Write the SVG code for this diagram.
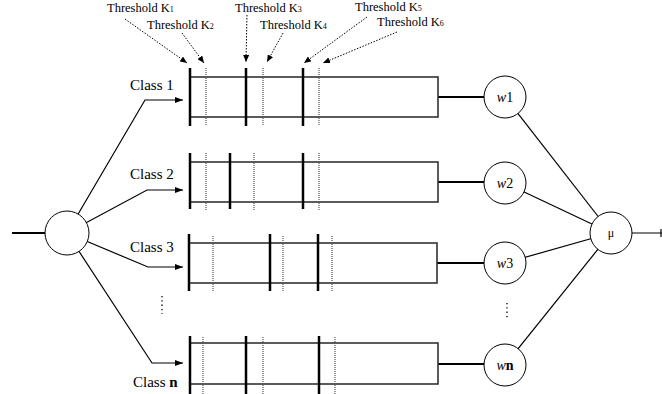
<svg xmlns="http://www.w3.org/2000/svg" width="662" height="394" viewBox="0 0 662 394">
<defs>
<marker id="ah" markerWidth="8" markerHeight="6" refX="8" refY="3" orient="auto" markerUnits="userSpaceOnUse"><path d="M0,0 L8,3 L0,6 Z" fill="#000"/></marker>
<marker id="dh" markerWidth="7" markerHeight="6" refX="7" refY="3" orient="auto" markerUnits="userSpaceOnUse"><path d="M0,0 L7,3 L0,6 Z" fill="#000"/></marker>
</defs>
<style>
text{font-family:"Liberation Serif","Times New Roman",serif;fill:#000}
.lbl{font-size:15px}
.th{font-size:12.5px}
.sub{font-size:8px}
.cn{font-size:14px}
.box{fill:#fff;stroke:#333;stroke-width:1.6}
.thick{stroke:#000;stroke-width:2.5}
.dot{stroke:#555;stroke-width:1.2;stroke-dasharray:1 1}
.node{fill:#fff;stroke:#000;stroke-width:1}
.ln{stroke:#000;stroke-width:1.2;fill:none}
.bold{stroke:#000;stroke-width:2.2;fill:none}
.darr{stroke:#000;stroke-width:1;stroke-dasharray:1.5 1.5;fill:none}
</style>
<rect width="662" height="394" fill="#fff"/>
<g id="connectors">
<line class="bold" x1="12" y1="233" x2="50" y2="233"/>
<polyline class="ln" points="67,233 145,100 183,100" marker-end="url(#ah)"/>
<polyline class="ln" points="67,233 147,190 183,190" marker-end="url(#ah)"/>
<polyline class="ln" points="67,233 148,267 183,267" marker-end="url(#ah)"/>
<polyline class="ln" points="67,233 152,363 183,363" marker-end="url(#ah)"/>
<line class="bold" x1="438" y1="97" x2="485" y2="97"/>
<line class="bold" x1="438" y1="182" x2="485" y2="182"/>
<line class="bold" x1="437" y1="263" x2="485" y2="263"/>
<line class="bold" x1="438" y1="364" x2="485" y2="364"/>
<line class="ln" x1="505" y1="97" x2="611" y2="233"/>
<line class="ln" x1="505" y1="183" x2="611" y2="233"/>
<line class="ln" x1="505" y1="263" x2="611" y2="233"/>
<line class="ln" x1="505" y1="365" x2="611" y2="233"/>
<line class="ln" x1="611" y1="233" x2="662" y2="233"/>
<line class="ln" x1="661" y1="229" x2="661" y2="237"/>
<line class="darr" x1="125" y1="19" x2="187" y2="63" marker-end="url(#dh)"/>
<line class="darr" x1="182" y1="33" x2="204" y2="63" marker-end="url(#dh)"/>
<line class="darr" x1="247" y1="15" x2="246" y2="62" marker-end="url(#dh)"/>
<line class="darr" x1="283" y1="33" x2="267" y2="62" marker-end="url(#dh)"/>
<line class="darr" x1="367" y1="17" x2="304" y2="63" marker-end="url(#dh)"/>
<line class="darr" x1="397" y1="32" x2="323" y2="63" marker-end="url(#dh)"/>
</g>
<g id="splitter"><circle class="node" cx="67" cy="233" r="22"/></g>
<g id="labels">
<text class="th" x="107" y="12">Threshold K<tspan class="sub">1</tspan></text>
<text class="th" x="147" y="29">Threshold K<tspan class="sub">2</tspan></text>
<text class="th" x="235" y="12">Threshold K<tspan class="sub">3</tspan></text>
<text class="th" x="260" y="29">Threshold K<tspan class="sub">4</tspan></text>
<text class="th" x="355" y="10.5">Threshold K<tspan class="sub">5</tspan></text>
<text class="th" x="377" y="26">Threshold K<tspan class="sub">6</tspan></text>
<text class="lbl" x="130" y="90">Class 1</text>
<text class="lbl" x="130" y="179">Class 2</text>
<text class="lbl" x="130" y="252">Class 3</text>
<text class="lbl" x="133" y="387">Class <tspan font-weight="bold">n</tspan></text>
</g>
<g id="row1">
<rect class="box" x="190" y="77" width="248" height="40"/>
<line class="thick" x1="190" y1="68" x2="190" y2="126"/><line class="thick" x1="246" y1="68" x2="246" y2="126"/><line class="thick" x1="303" y1="68" x2="303" y2="126"/>
<line class="dot" x1="206" y1="68" x2="206" y2="126"/><line class="dot" x1="263" y1="68" x2="263" y2="126"/><line class="dot" x1="319" y1="68" x2="319" y2="126"/>
</g>
<g id="row2">
<rect class="box" x="190" y="162" width="248" height="40"/>
<line class="thick" x1="190" y1="153" x2="190" y2="209"/><line class="thick" x1="230" y1="153" x2="230" y2="209"/><line class="thick" x1="303" y1="153" x2="303" y2="209"/>
<line class="dot" x1="206" y1="153" x2="206" y2="210"/><line class="dot" x1="254" y1="153" x2="254" y2="210"/><line class="dot" x1="319" y1="153" x2="319" y2="210"/>
</g>
<g id="row3">
<rect class="box" x="189" y="243" width="248" height="40"/>
<line class="thick" x1="189" y1="234" x2="189" y2="291"/><line class="thick" x1="270" y1="234" x2="270" y2="291"/><line class="thick" x1="318" y1="234" x2="318" y2="291"/>
<line class="dot" x1="213" y1="236" x2="213" y2="292"/><line class="dot" x1="283" y1="236" x2="283" y2="292"/><line class="dot" x1="332" y1="236" x2="332" y2="292"/>
</g>
<g id="rown">
<rect class="box" x="190" y="343" width="248" height="41"/>
<line class="thick" x1="190" y1="336" x2="190" y2="394"/><line class="thick" x1="246" y1="336" x2="246" y2="394"/><line class="thick" x1="319" y1="336" x2="319" y2="394"/>
<line class="dot" x1="203" y1="337" x2="203" y2="394"/><line class="dot" x1="263" y1="337" x2="263" y2="394"/><line class="dot" x1="335" y1="337" x2="335" y2="394"/>
</g>
<g id="vdots">
<line x1="162" y1="296" x2="162" y2="314" stroke="#000" stroke-width="1.3" stroke-dasharray="1.3 3"/>
<line x1="507" y1="303" x2="507" y2="320" stroke="#000" stroke-width="1.3" stroke-dasharray="1.3 3"/>
</g>
<g id="w1"><circle class="node" cx="505" cy="97" r="21"/><text class="cn" x="505" y="102" text-anchor="middle"><tspan font-style="italic">w</tspan>1</text></g>
<g id="w2"><circle class="node" cx="505" cy="183" r="21"/><text class="cn" x="505" y="188" text-anchor="middle"><tspan font-style="italic">w</tspan>2</text></g>
<g id="w3"><circle class="node" cx="505" cy="263" r="21"/><text class="cn" x="505" y="268" text-anchor="middle"><tspan font-style="italic">w</tspan>3</text></g>
<g id="wn"><circle class="node" cx="505" cy="365" r="21"/><text class="cn" x="505" y="370" text-anchor="middle"><tspan font-style="italic">w</tspan><tspan font-weight="bold">n</tspan></text></g>
<g id="mu"><circle class="node" cx="611" cy="233" r="21"/><text x="611" y="237" font-size="12" text-anchor="middle">μ</text></g>
</svg>
